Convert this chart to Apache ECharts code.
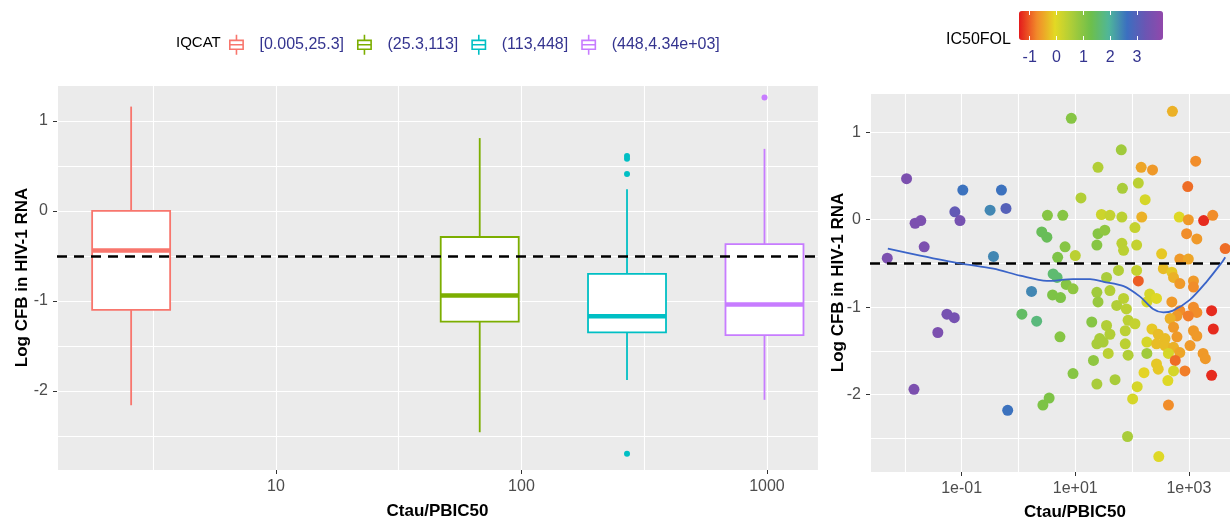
<!DOCTYPE html>
<html>
<head>
<meta charset="utf-8">
<script src="https://cdn.jsdelivr.net/npm/echarts@6/dist/echarts.min.js"></script>
<style>
  html, body { margin: 0; background: #fff; }
  #chart { width: 1230px; height: 520px; }
</style>
</head>
<body>
<div id="chart"></div>
<script>
// left panel: boxplots of Log CFB by IQCAT group, x on log10(Ctau/PBIC50)
const groupNames = ['[0.005,25.3]', '(25.3,113]', '(113,448]', '(448,4.34e+03]']
const groupColors = ['#F8766D', '#7CAE00', '#00BFC4', '#C77CFF']
const boxLogX = [0.41, 1.83, 2.43, 2.99]
const boxLow = [-2.16, -2.46, -1.88, -2.10]
const boxQ1 = [-1.10, -1.23, -1.35, -1.38]
const boxMedian = [-0.44, -0.94, -1.17, -1.04]
const boxQ3 = [0.00, -0.29, -0.70, -0.37]
const boxHigh = [1.16, 0.81, 0.24, 0.69]
const cyanOutliers = [0.61, 0.58, 0.41, -2.70]
const purpleOutliers = [1.26]
const leftXTicks = [1, 2, 3]
const leftYTicks = [-2, -1, 0, 1]

// right panel: individual points, log10(Ctau/PBIC50), Log CFB, IC50FOL
const pointLogX = [
  -2.31, -1.97, -1.82, -1.72, -1.66, -1.84, -1.42, -1.26, -1.13, -1.12, -1.03, -0.98,
  -0.50, -0.30, -0.22, -0.44, -0.19, 0.23, 0.06, 0.32, 0.43, 0.54, 0.93, 0.41,
  0.50, 0.51, 0.78, 0.82, 0.69, 1.00, 0.61, 0.68, 0.60, 0.74, 0.84, 0.96,
  0.73, 0.96, 1.29, 1.32, 1.38, 1.70, 1.10, 1.40, 1.81, 1.83, 2.11, 2.23,
  2.16, 2.36, 2.71, 3.12, 2.98, 1.46, 1.61, 1.82, 2.17, 2.83, 2.99, 3.26,
  3.42, 1.40, 1.52, 1.38, 1.82, 1.85, 2.08, 2.05, 2.96, 3.14, 3.64, 2.52,
  2.84, 2.99, 1.55, 1.76, 2.11, 2.08, 2.55, 2.70, 2.73, 2.84, 3.08, 3.08,
  1.38, 1.61, 1.40, 1.85, 1.73, 1.90, 2.31, 2.43, 2.26, 2.70, 2.84, 2.79,
  2.67, 3.08, 3.14, 2.99, 3.40, 3.43, 1.55, 1.61, 1.43, 1.93, 2.05, 1.88,
  2.35, 2.46, 2.58, 2.73, 2.79, 3.08, 3.14, 1.38, 1.49, 1.88, 2.26, 2.43,
  2.58, 2.73, 2.84, 3.02, 3.25, 3.29, 1.58, 1.93, 2.26, 2.43, 2.46, 2.64,
  2.76, 2.73, 2.93, 3.40, 2.21, 2.63, 2.09, 2.01, 2.64, 1.92, 2.47
]
const pointCFB = [
  -0.44, 0.47, -0.04, -0.01, -0.31, -1.94, -1.29, -1.08, -1.12, 0.09, -0.01, 0.34,
  0.11, 0.34, 0.13, -0.42, -2.18, -0.82, -1.08, -1.16, -2.12, -2.04, 1.16, -0.14,
  -0.20, 0.05, 0.05, -0.31, -0.43, -0.41, -0.62, -0.66, -0.86, -0.89, -0.74, -0.79,
  -1.34, -1.76, -1.17, -1.61, -1.88, -1.83, 0.25, 0.60, 0.80, 0.36, 0.42, 0.23,
  0.60, 0.57, 1.24, 0.67, 0.38, 0.06, 0.05, 0.03, 0.03, 0.03, 0.00, -0.01,
  0.05, -0.16, -0.12, -0.29, -0.27, -0.35, -0.29, -0.09, -0.16, -0.22, -0.33, -0.39,
  -0.45, -0.45, -0.66, -0.58, -0.70, -0.58, -0.56, -0.60, -0.66, -0.73, -0.70, -0.77,
  -0.83, -0.81, -0.94, -0.90, -0.98, -1.02, -0.85, -0.90, -0.94, -0.94, -1.04, -1.10,
  -1.13, -1.00, -1.06, -1.10, -1.04, -1.25, -1.21, -1.31, -1.36, -1.15, -1.19, -1.27,
  -1.25, -1.31, -1.36, -1.23, -1.34, -1.27, -1.33, -1.42, -1.40, -1.42, -1.40, -1.42,
  -1.44, -1.46, -1.52, -1.44, -1.53, -1.59, -1.53, -1.55, -1.53, -1.65, -1.71, -1.53,
  -1.61, -1.73, -1.73, -1.78, -1.75, -1.84, -1.91, -2.05, -2.12, -2.48, -2.71
]
const pointIC50FOL = [
  3.6, 3.6, 3.6, 3.6, 3.6, 3.6, 3.6, 3.5, 3.5, 3.2, 3.5, 2.6,
  2.4, 2.6, 3.0, 2.4, 2.6, 2.4, 1.5, 1.7, 1.1, 1.1, 1.0, 1.4,
  1.4, 1.0, 1.0, 1.0, 1.1, 0.4, 1.6, 1.6, 1.1, 1.1, 1.0, 0.9,
  1.0, 1.0, 1.0, 0.9, 0.6, 0.6, 0.5, 0.5, 0.7, 0.6, 0.4, 0.1,
  -0.5, -0.6, -0.4, -0.7, -0.9, 0.2, 0.3, 0.4, -0.4, 0.0, -0.6, -1.3,
  -0.7, 1.0, 0.9, 1.0, 0.4, 0.4, 0.3, 0.3, -0.7, -0.6, -0.9, -0.2,
  -0.6, -0.5, 0.6, 0.5, -1.0, 0.3, -0.3, -0.2, -0.4, -0.6, -0.6, -0.7,
  0.7, 0.5, 0.8, 0.4, 0.5, 0.4, 0.1, 0.0, 0.1, -0.6, -0.7, -0.6,
  -0.4, -0.7, -0.7, -0.8, -1.3, -1.3, 0.5, 0.5, 0.6, 0.4, 0.3, 0.4,
  -0.2, -0.3, -0.3, -0.6, -0.6, -0.6, -0.6, 0.6, 0.6, 0.4, 0.1, -0.3,
  -0.3, -0.4, -0.5, -0.6, -0.6, -0.6, 0.4, 0.5, 0.7, -0.2, -0.2, 0.1,
  -0.9, 0.1, -0.8, -1.3, -0.1, 0.0, 0.1, 0.1, -0.7, 0.6, 0.0
]
// smoothed fit drawn on the right panel
const smoothLogX = [-2.30, -1.73, -1.03, -0.44, 0.03, 0.50, 0.96, 1.26, 1.50, 1.85, 2.14, 2.37, 2.55, 2.72, 3.01, 3.31, 3.59, 3.64]
const smoothCFB = [-0.33, -0.41, -0.50, -0.56, -0.64, -0.70, -0.68, -0.68, -0.71, -0.76, -0.88, -1.02, -1.06, -1.04, -0.92, -0.71, -0.48, -0.43]
const rightXTicks = [-1, 1, 3]
const rightYTicks = [-2, -1, 0, 1]
const colorbarTicks = [-1, 0, 1, 2, 3]
const refLine = -0.5

const chart = echarts.init(document.getElementById('chart'))

const boxIcon = 'path://M0,5H12V13H0Z M6,0V5 M6,13V18 M0,9H12'
const navy = '#34348f'
const tickStyle = { show: true, length: 4, lineStyle: { color: '#333', width: 1 } }
const labelStyle = { fontSize: 16, color: '#4d4d4d' }
const titleStyle = { fontSize: 17, fontWeight: 'bold', color: '#000' }
const whiteLine = { show: true, lineStyle: { color: '#fff', width: 1.1 } }
const noLine = { show: false, onZero: false }

// axis that only draws the white grid lines (and carries the data)
function gridAxis (gridIndex, min, max, splitNumber, position) {
  return {
    type: 'value', gridIndex, min, max, splitNumber, position,
    axisLine: noLine, axisTick: { show: false }, axisLabel: { show: false },
    splitLine: whiteLine
  }
}
// axis that only draws ticks, labels and the title
function labelAxis (gridIndex, min, max, ticks, position, extra) {
  return Object.assign({
    type: 'value', gridIndex, min, max, position,
    axisLine: noLine,
    axisTick: Object.assign({ customValues: ticks }, tickStyle),
    axisLabel: Object.assign({ customValues: ticks }, labelStyle),
    splitLine: { show: false },
    nameLocation: 'middle',
    nameMoveOverlap: false,
    nameTextStyle: titleStyle
  }, extra)
}

function boxRenderer (color) {
  return function (params, api) {
    const x = api.value(0)
    const lo = api.coord([x, api.value(1)])
    const q1 = api.coord([x, api.value(2)])
    const med = api.coord([x, api.value(3)])
    const q3 = api.coord([x, api.value(4)])
    const hi = api.coord([x, api.value(5)])
    const cx = med[0]
    const half = 39
    const stroke = { stroke: color, lineWidth: 1.8 }
    return {
      type: 'group',
      children: [
        { type: 'line', shape: { x1: cx, y1: q3[1], x2: cx, y2: hi[1] }, style: stroke },
        { type: 'line', shape: { x1: cx, y1: q1[1], x2: cx, y2: lo[1] }, style: stroke },
        { type: 'rect', shape: { x: cx - half, y: q3[1], width: half * 2, height: q1[1] - q3[1] }, style: { fill: '#fff', stroke: color, lineWidth: 1.8 } },
        { type: 'line', shape: { x1: cx - half, y1: med[1], x2: cx + half, y2: med[1] }, style: { stroke: color, lineWidth: 4.5 } }
      ]
    }
  }
}

const boxSeries = groupNames.map((name, i) => ({
  name: name,
  type: 'custom',
  xAxisIndex: 0,
  yAxisIndex: 0,
  z: 2,
  itemStyle: { color: groupColors[i] },
  encode: { x: 0, y: [1, 2, 3, 4, 5] },
  renderItem: boxRenderer(groupColors[i]),
  data: [[boxLogX[i], boxLow[i], boxQ1[i], boxMedian[i], boxQ3[i], boxHigh[i]]]
}))

const dashed = {
  silent: true,
  symbol: ['none', 'none'],
  label: { show: false },
  lineStyle: { color: '#000', type: [10, 7], width: 2.5 },
  data: [{ yAxis: refLine }]
}

const expLabel = v => '1e' + (v < 0 ? '-' : '+') + String(Math.abs(v)).padStart(2, '0')

chart.setOption({
  animation: false,
  textStyle: { fontFamily: 'Liberation Sans, Arial, sans-serif' },
  title: [
    { text: 'IQCAT', left: 176, top: 35, padding: 0, textStyle: { fontSize: 15, fontWeight: 'normal', color: '#000' } },
    { text: 'IC50FOL', left: 946, top: 32, padding: 0, textStyle: { fontSize: 16, fontWeight: 'normal', color: '#000' } }
  ],
  legend: {
    left: 229,
    top: 34,
    padding: 0,
    itemWidth: 16,
    itemHeight: 20,
    itemGap: 13,
    selectedMode: false,
    textStyle: { fontSize: 16, color: navy, padding: [0, 0, 0, 10] },
    data: groupNames.map((n, i) => ({
      name: n,
      icon: boxIcon,
      itemStyle: { color: '#fff', borderColor: groupColors[i], borderWidth: 1.6 }
    }))
  },
  visualMap: {
    type: 'continuous',
    seriesIndex: 7,
    dimension: 2,
    min: -1.40,
    max: 3.97,
    orient: 'horizontal',
    left: 1019,
    top: 11,
    padding: 0,
    itemWidth: 29,
    itemHeight: 144,
    calculable: false,
    inRange: {
      color: ['#e41a1c', '#f28a2a', '#e3d924', '#a8cc3a', '#6dbf4b', '#4fb69a', '#3b6fc0', '#6a56b3', '#9148ab']
    }
  },
  grid: [
    { left: 57, top: 85, width: 761, height: 385, show: true, backgroundColor: '#ebebeb', borderWidth: 0, outerBoundsMode: 'none' },
    { left: 870, top: 93, width: 410, height: 379, show: true, backgroundColor: '#ebebeb', borderWidth: 0, outerBoundsMode: 'none' },
    { left: 1019, top: 11, width: 144, height: 29, show: false, outerBoundsMode: 'none' }
  ],
  xAxis: [
    gridAxis(0, 0.108, 3.208, 6, 'bottom'),
    labelAxis(0, 0.108, 3.208, leftXTicks, 'bottom', {
      axisLabel: Object.assign({ customValues: leftXTicks, margin: 9, formatter: v => String(Math.round(Math.pow(10, v))) }, labelStyle),
      name: 'Ctau/PBIC50', nameGap: 33
    }),
    gridAxis(1, -2.614, 4.604, 7, 'bottom'),
    labelAxis(1, -2.614, 4.604, rightXTicks, 'bottom', {
      axisLabel: Object.assign({ customValues: rightXTicks, margin: 9, formatter: expLabel }, labelStyle),
      name: 'Ctau/PBIC50', nameGap: 32
    }),
    {
      type: 'value', gridIndex: 2, position: 'bottom', min: -1.40, max: 3.97, z: 10,
      axisLine: noLine,
      axisTick: { show: true, inside: true, length: 4, customValues: colorbarTicks, lineStyle: { color: '#fff', width: 1 } },
      axisLabel: { customValues: colorbarTicks, margin: 10, fontSize: 16, color: navy },
      splitLine: { show: false }
    },
    {
      type: 'value', gridIndex: 2, position: 'top', min: -1.40, max: 3.97, z: 10,
      axisLine: noLine,
      axisTick: { show: true, inside: true, length: 4, customValues: colorbarTicks, lineStyle: { color: '#fff', width: 1 } },
      axisLabel: { show: false },
      splitLine: { show: false }
    }
  ],
  yAxis: [
    gridAxis(0, -2.88, 1.40, 8, 'left'),
    labelAxis(0, -2.88, 1.40, leftYTicks, 'left', {
      axisLabel: Object.assign({ customValues: leftYTicks, margin: 9 }, labelStyle),
      name: 'Log CFB in HIV-1 RNA', nameGap: 26, nameRotate: 90
    }),
    gridAxis(1, -2.886, 1.45, 8, 'left'),
    labelAxis(1, -2.886, 1.45, rightYTicks, 'left', {
      axisLabel: Object.assign({ customValues: rightYTicks, margin: 9 }, labelStyle),
      name: 'Log CFB in HIV-1 RNA', nameGap: 23, nameRotate: 90
    }),
    { type: 'value', gridIndex: 2, show: false, min: 0, max: 1 }
  ],
  series: boxSeries.concat([
    {
      name: groupNames[2], type: 'scatter', xAxisIndex: 0, yAxisIndex: 0, z: 3,
      symbolSize: 6, itemStyle: { color: groupColors[2], opacity: 1 },
      data: cyanOutliers.map(v => [boxLogX[2], v])
    },
    {
      name: groupNames[3], type: 'scatter', xAxisIndex: 0, yAxisIndex: 0, z: 3,
      symbolSize: 6, itemStyle: { color: groupColors[3], opacity: 1 },
      data: purpleOutliers.map(v => [boxLogX[3], v])
    },
    {
      name: 'ref-left', type: 'line', xAxisIndex: 0, yAxisIndex: 0, z: 5,
      data: [], markLine: dashed
    },
    {
      name: 'points', type: 'scatter', xAxisIndex: 2, yAxisIndex: 2, z: 3,
      symbolSize: 11, itemStyle: { opacity: 1 },
      data: pointLogX.map((x, i) => [x, pointCFB[i], pointIC50FOL[i]])
    },
    {
      name: 'smooth', type: 'line', xAxisIndex: 2, yAxisIndex: 2, z: 6,
      smooth: 0.3, showSymbol: false,
      lineStyle: { color: '#3a64c8', width: 1.8 },
      data: smoothLogX.map((x, i) => [x, smoothCFB[i]]),
      markLine: dashed
    }
  ])
})
</script>
</body>
</html>
